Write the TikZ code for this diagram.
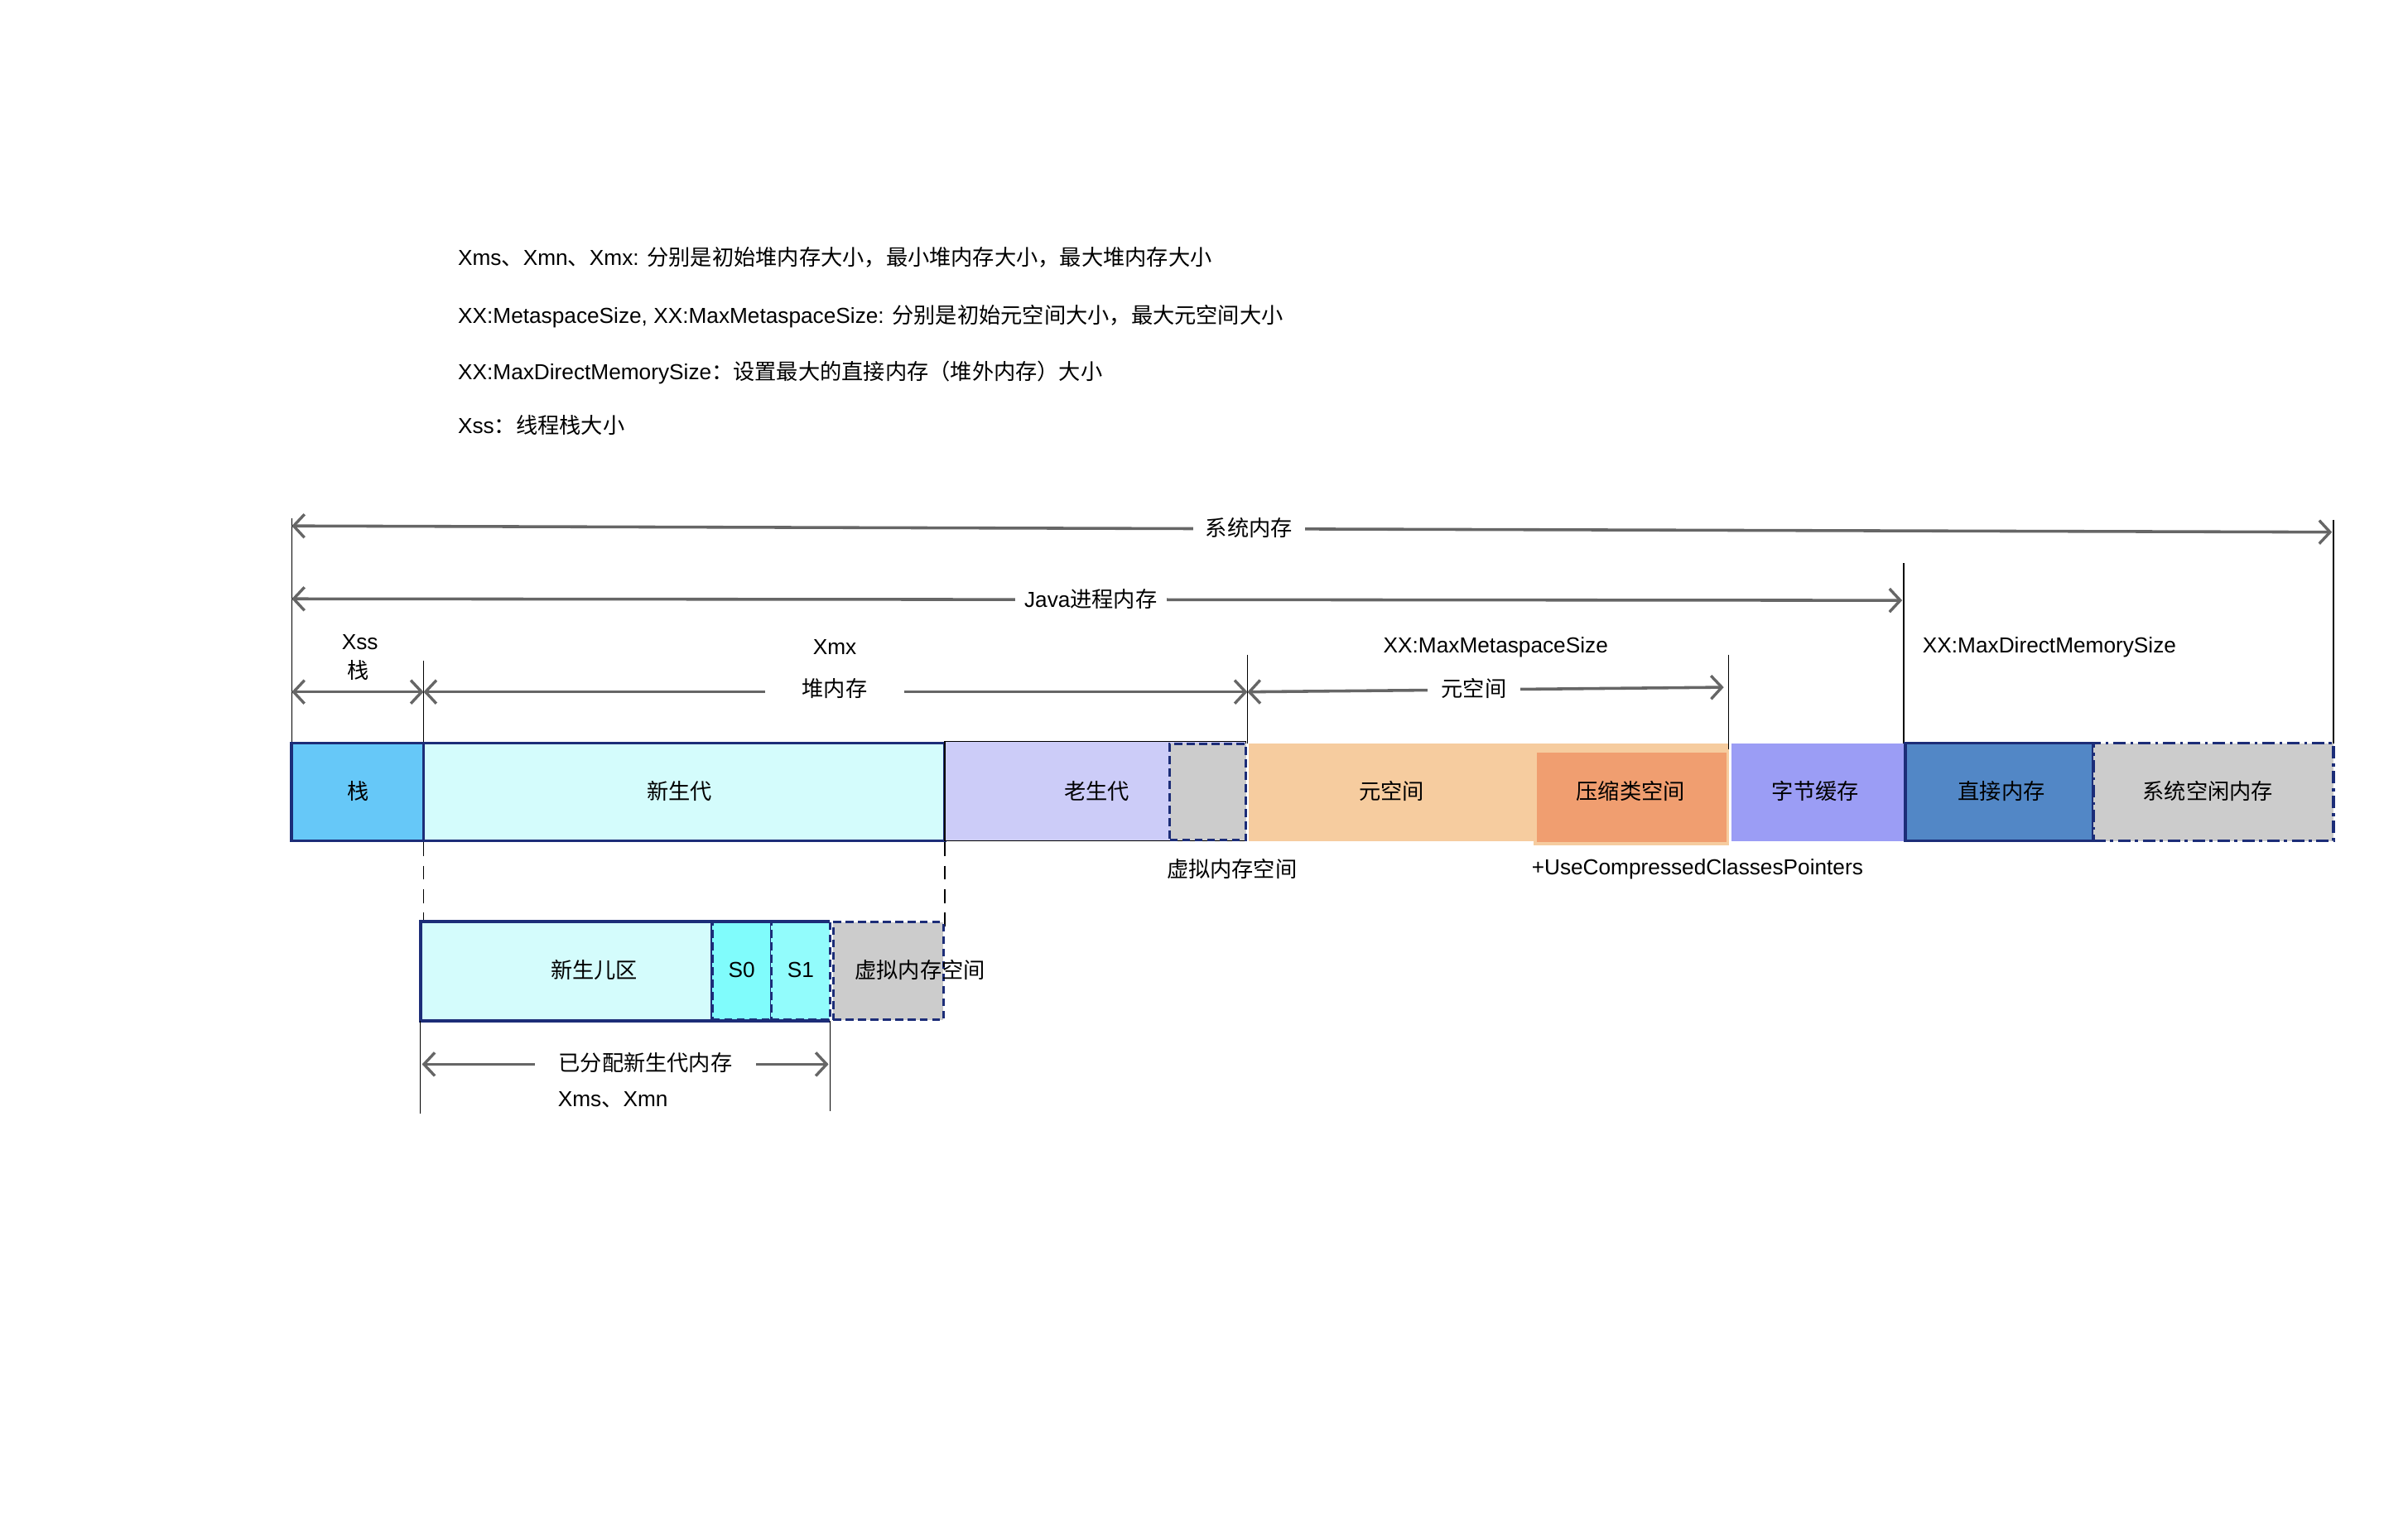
\documentclass[tikz,border=0pt]{standalone}
\usepackage{fontspec}
\setmainfont{Liberation Sans}
\newfontfamily\cjk{Noto Sans CJK SC}
\newcommand\zh[1]{{\cjk #1}}
\usetikzlibrary{arrows.meta}
\definecolor{navy}{HTML}{1C2D78}
\definecolor{dimgray}{HTML}{666666}
\definecolor{stackc}{HTML}{66C8F8}
\definecolor{youngc}{HTML}{D4FCFC}
\definecolor{oldc}{HTML}{CCCCF8}
\definecolor{grayc}{HTML}{CCCCCC}
\definecolor{metac}{HTML}{F6CC9F}
\definecolor{ccsc}{HTML}{F09E70}
\definecolor{bytec}{HTML}{9B9DF5}
\definecolor{directc}{HTML}{5287C6}
\definecolor{s0c}{HTML}{80FCFC}
\definecolor{s1c}{HTML}{92FCFC}
\tikzset{
  tip/.tip={Straight Barb[length=7pt,width=15pt,line width=1.8pt]},
  dimline/.style={draw=dimgray, line width=1.9pt, tip-tip},
  dimlbl/.style={fill=white, inner ysep=2pt, inner xsep=8pt},
  ext/.style={draw=black, line width=0.7pt},
  extdash/.style={draw=black, line width=0.8pt, dash pattern=on 9pt off 6pt},
  blk/.style={inner sep=0pt, outer sep=0pt},
  solidbox/.style={blk, draw=navy, line width=2pt},
  dashbox/.style={blk, draw=navy, line width=1.6pt, dash pattern=on 5pt off 3pt},
  dotdashbox/.style={blk, draw=navy, line width=2pt, dash pattern=on 8pt off 3pt on 2pt off 3pt},
  txt/.style={inner sep=1pt},
}
\begin{document}
\begin{tikzpicture}[x=1pt,y=-1pt,font=\fontsize{14}{16}\selectfont]
\useasboundingbox (0,0) rectangle (1552,976.7);

% notes
\node[txt,anchor=west] (n1) at (294,166) {Xms\zh{、}Xmn\zh{、}Xmx: \zh{分别是初始堆内存大小，最小堆内存大小，最大堆内存大小}};
\node[txt,anchor=west] (n2) at (294,204) {XX:MetaspaceSize, XX:MaxMetaspaceSize: \zh{分别是初始元空间大小，最大元空间大小}};
\node[txt,anchor=west] (n3) at (294,240) {XX:MaxDirectMemorySize\zh{：设置最大的直接内存（堆外内存）大小}};
\node[txt,anchor=west] (n4) at (294,274) {Xss\zh{：线程栈大小}};

% extension lines
\coordinate (e1a) at (188,334); \coordinate (e1b) at (188,479);
\coordinate (e2a) at (273,426); \coordinate (e2b) at (273,479);
\coordinate (e3a) at (804,422); \coordinate (e3b) at (804,479);
\coordinate (e4a) at (1114,422); \coordinate (e4b) at (1114,486);
\coordinate (e5a) at (1227,363); \coordinate (e5b) at (1227,479);
\coordinate (e6a) at (1504,335); \coordinate (e6b) at (1504,479);
\foreach \i in {1,...,6} {\draw[ext] (e\i a) -- (e\i b);}

% main bar
\node[solidbox, fill=stackc, minimum width=85pt, minimum height=63pt] (stack) at (230.5,510.5) {};
\node[solidbox, fill=youngc, minimum width=336pt, minimum height=63pt] (young) at (441,510.5) {};
\node[blk, fill=oldc, draw=black, line width=0.9pt, minimum width=194pt, minimum height=64pt] (old) at (706,510) {};
\node[dashbox, fill=grayc, minimum width=49pt, minimum height=62pt] (oldv) at (778.5,510.5) {};
\node[blk, fill=metac, minimum width=309pt, minimum height=63pt] (meta) at (959.5,510.5) {};
\node[blk, fill=ccsc, draw=metac, line width=2pt, minimum width=124pt, minimum height=60pt] (ccs) at (1051.5,514) {};
\node[blk, fill=bytec, minimum width=111pt, minimum height=63pt] (byte) at (1171.5,510.5) {};
\node[solidbox, fill=directc, minimum width=121pt, minimum height=63pt] (direct) at (1288.5,510.5) {};
\node[dotdashbox, fill=grayc, minimum width=155pt, minimum height=63pt] (free) at (1426.5,510.5) {};

\node[txt] (tstack) at (231,510) {\zh{栈}};
\node[txt] (tyoung) at (438,510) {\zh{新生代}};
\node[txt] (told) at (707,510) {\zh{老生代}};
\node[txt] (tmeta) at (897,510) {\zh{元空间}};
\node[txt] (tccs) at (1051,510) {\zh{压缩类空间}};
\node[txt] (tbyte) at (1170,510) {\zh{字节缓存}};
\node[txt] (tdirect) at (1290,510) {\zh{直接内存}};
\node[txt] (tfree) at (1423,510) {\zh{系统空闲内存}};

\node[txt] (tvirt) at (794,560) {\zh{虚拟内存空间}};
\node[txt] (tucc) at (1094,560) {+UseCompressedClassesPointers};

% dimension arrows
\coordinate (s1) at (188,339); \coordinate (s2) at (1503,343);
\draw[dimline] (s1) -- (s2);
\node[dimlbl] (lsys) at (805,340) {\zh{系统内存}};

\coordinate (j1) at (188,386); \coordinate (j2) at (1226,387);
\draw[dimline] (j1) -- (j2);
\node[dimlbl, inner xsep=6pt] (ljava) at (703,386) {Java\zh{进程内存}};

\coordinate (k1) at (188,446); \coordinate (k2) at (273,446);
\draw[dimline] (k1) -- (k2);
\node[txt] (lxss) at (232,414) {Xss};
\node[txt] (lstack) at (231,432) {\zh{栈}};

\coordinate (h1) at (273,446); \coordinate (h2) at (804,446);
\draw[dimline] (h1) -- (h2);
\node[txt] (lxmx) at (538,417) {Xmx};
\node[dimlbl, inner xsep=24pt] (lheap) at (538,444) {\zh{堆内存}};

\coordinate (m1) at (804,446); \coordinate (m2) at (1111,443);
\draw[dimline] (m1) -- (m2);
\node[txt] (lmaxmeta) at (964,417) {XX:MaxMetaspaceSize};
\node[dimlbl, inner xsep=9pt] (lmeta) at (950,444) {\zh{元空间}};

\node[txt, anchor=west] (lmaxdir) at (1238,417) {XX:MaxDirectMemorySize};

% zoom-in of young generation
\coordinate (d1a) at (273,543); \coordinate (d1b) at (273,594);
\coordinate (d2a) at (609,543); \coordinate (d2b) at (609,600);
\draw[extdash] (d1a) -- (d1b);
\draw[extdash] (d2a) -- (d2b);

\node[solidbox, fill=youngc, minimum width=188pt, minimum height=64pt] (eden) at (365,626) {};
\node[dashbox, fill=s0c, minimum width=38pt, minimum height=63pt] (s0) at (478,626) {};
\node[dashbox, fill=s1c, minimum width=38pt, minimum height=63pt] (s1box) at (516,626) {};
\draw[navy, line width=2pt] (271,594) -- (535,594) (271,658) -- (535,658);
\node[dashbox, fill=grayc, minimum width=71pt, minimum height=63pt] (yv) at (572.5,626) {};

\node[txt] (teden) at (383,625) {\zh{新生儿区}};
\node[txt] (ts0) at (478,625) {S0};
\node[txt] (ts1) at (516,625) {S1};
\node[txt] (tyv) at (593,625) {\zh{虚拟内存空间}};

\coordinate (f1a) at (271,658); \coordinate (f1b) at (271,718);
\coordinate (f2a) at (535,658); \coordinate (f2b) at (535,716);
\draw[ext] (f1a) -- (f1b);
\draw[ext] (f2a) -- (f2b);

\coordinate (a1) at (272,686); \coordinate (a2) at (534,686);
\draw[dimline] (a1) -- (a2);
\node[dimlbl, inner xsep=15pt] (lalloc) at (416,685) {\zh{已分配新生代内存}};
\node[txt] (lxms) at (395,709) {Xms\zh{、}Xmn};
\end{tikzpicture}
\end{document}
